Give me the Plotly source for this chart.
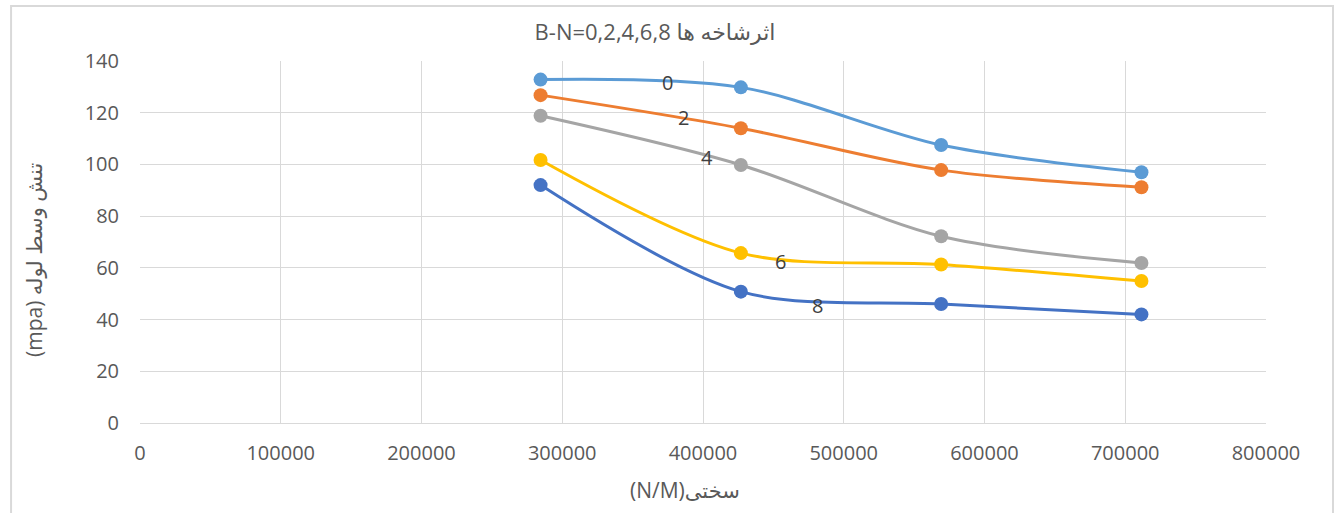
import plotly.graph_objects as go

x_vals = [284600, 426900, 569200, 711500]
series_names = ["0", "2", "4", "6", "8"]
y_b0 = [132.8, 129.8, 107.5, 97.0]
y_b2 = [126.8, 114.0, 97.8, 91.2]
y_b4 = [118.8, 99.8, 72.2, 61.9]
y_b6 = [101.7, 65.7, 61.3, 54.9]
y_b8 = [92.0, 50.8, 46.0, 42.0]
colors = ["#5B9BD5", "#ED7D31", "#A5A5A5", "#FFC000", "#4472C4"]

label_x = [375000, 386000, 403000, 455000, 481000]
label_y = [131.5, 118.0, 102.5, 62.3, 45.6]

title_text = "B-N=0,2,4,6,8 اثرشاخه ها"
x_title = "(N/M)سختی"
y_title = "(mpa) تنش وسط لوله"

font_family = "'Open Sans', 'DejaVu Sans', sans-serif"

fig = go.Figure()
for name, ys, c in zip(series_names, [y_b0, y_b2, y_b4, y_b6, y_b8], colors):
    fig.add_trace(go.Scatter(
        x=x_vals, y=ys, name=name, mode="lines+markers",
        line=dict(color=c, width=3, shape="spline", smoothing=0.9),
        marker=dict(color=c, size=14),
        showlegend=False,
    ))

for t, lx, ly in zip(series_names, label_x, label_y):
    fig.add_annotation(x=lx, y=ly, text=t, showarrow=False,
                       font=dict(size=20, color="#404040", family=font_family))

# axis titles as annotations (positioned like the reference)
fig.add_annotation(xref="paper", yref="paper", x=(685 - 140) / 1126, y=(423 - 490) / 362,
                   text=x_title, showarrow=False, xanchor="center", yanchor="middle",
                   font=dict(size=21, color="#595959", family=font_family))
fig.add_annotation(xref="paper", yref="paper", x=(34 - 140) / 1126, y=(423 - 260) / 362,
                   text=y_title, showarrow=False, textangle=-90,
                   xanchor="center", yanchor="middle",
                   font=dict(size=21, color="#595959", family=font_family))

fig.add_shape(type="rect", xref="paper", yref="paper",
              x0=-0.1145, x1=1.0595, y0=-0.30, y1=1.152,
              line=dict(color="#D9D9D9", width=2), layer="below")

fig.update_layout(
    width=1338, height=513,
    margin=dict(l=140, r=72, t=61, b=90),
    paper_bgcolor="white", plot_bgcolor="white",
    font=dict(family=font_family, color="#595959", size=20),
    title=dict(text=title_text, x=(655 - 140) / 1126, xref="paper", xanchor="center",
               y=0.937, yanchor="middle",
               font=dict(size=22, color="#595959", family=font_family)),
    xaxis=dict(range=[0, 800000], dtick=100000, showgrid=True, gridcolor="#D9D9D9",
               gridwidth=1, zeroline=False, showline=True, linecolor="#D9D9D9",
               tickformat="d", ticks="", ticklabelstandoff=12,
               tickfont=dict(size=20, color="#595959")),
    yaxis=dict(range=[0, 140], dtick=20, showgrid=True, gridcolor="#D9D9D9",
               gridwidth=1, zeroline=False, showline=False, ticks="",
               ticklabelstandoff=20,
               tickfont=dict(size=20, color="#595959")),
)

fig.write_html("out.html")
